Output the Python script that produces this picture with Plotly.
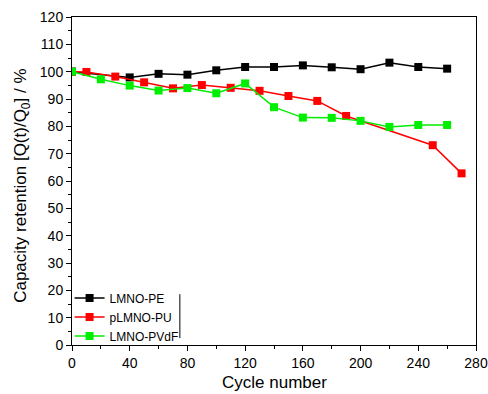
import plotly.graph_objects as go

# Capacity retention vs. cycle number for three cathode/binder systems
pe_cycles = [0, 40, 60, 80, 100, 120, 140, 160, 180, 200, 220, 240, 260]
pe_retention = [100, 97.9, 99.2, 98.9, 100.5, 101.7, 101.7, 102.3, 101.6, 100.9, 103.3, 101.7, 101.1]

pu_cycles = [0, 10, 30, 50, 70, 90, 110, 130, 150, 170, 190, 250, 270]
pu_retention = [100, 99.9, 98.2, 96.1, 93.9, 95.1, 94.1, 93.0, 91.1, 89.3, 83.8, 73.1, 62.8]

pvdf_cycles = [0, 20, 40, 60, 80, 100, 120, 140, 160, 180, 200, 220, 240, 260]
pvdf_retention = [100, 97.2, 94.9, 93.1, 94.0, 92.1, 95.7, 87.0, 83.2, 83.1, 82.0, 79.8, 80.5, 80.5]

series = [
    ("LMNO-PE", pe_cycles, pe_retention, "#000000"),
    ("pLMNO-PU", pu_cycles, pu_retention, "#ff0000"),
    ("LMNO-PVdF", pvdf_cycles, pvdf_retention, "#00ee00"),
]

FONT = "Liberation Sans, Arial"

fig = go.Figure()
for name, xs, ys, color in series:
    fig.add_trace(go.Scatter(
        x=xs, y=ys, name=name, mode="lines+markers",
        line=dict(color=color, width=1.5),
        marker=dict(symbol="square", size=8, color=color),
    ))

axis_common = dict(
    showline=True, linecolor="#000000", linewidth=1, mirror=True,
    ticks="outside", ticklen=5, tickwidth=1, tickcolor="#000000",
    showgrid=False, zeroline=False, automargin=False,
    tickfont=dict(family=FONT, size=14, color="#000000"),
)

fig.update_xaxes(
    range=[0, 280], tick0=0, dtick=40,
    minor=dict(ticks="outside", ticklen=3, dtick=20, tickcolor="#000000"),
    **axis_common,
)
fig.update_yaxes(
    range=[0, 120], tick0=0, dtick=10,
    minor=dict(ticks="outside", ticklen=3, dtick=5, tickcolor="#000000"),
    **axis_common,
)

# Axis titles
fig.add_annotation(text="Cycle number", xref="paper", yref="paper",
                   x=0.5, y=-0.115, xanchor="center", yanchor="middle",
                   showarrow=False, font=dict(family=FONT, size=17, color="#000000"))
fig.add_annotation(text="Capacity retention [Q(t)/Q<sub>0</sub>] / %", xref="paper", yref="paper",
                   x=-0.124, y=0.485, xanchor="center", yanchor="middle", textangle=-90,
                   showarrow=False, font=dict(family=FONT, size=17, color="#000000"))

# Thin rule on the right edge of the legend block
fig.add_shape(type="line", xref="paper", yref="paper",
              x0=0.267, x1=0.267, y0=0.021, y1=0.155,
              line=dict(color="#000000", width=1))

fig.update_layout(
    width=488, height=394,
    margin=dict(l=72, r=12, t=17, b=49),
    paper_bgcolor="white", plot_bgcolor="white",
    font=dict(family=FONT, color="#000000"),
    legend=dict(x=-0.006, y=-0.017, xanchor="left", yanchor="bottom",
                bgcolor="rgba(0,0,0,0)", tracegroupgap=0,
                font=dict(size=12, family=FONT),
                itemwidth=30),
    showlegend=True,
)

fig.write_html("out.html")
